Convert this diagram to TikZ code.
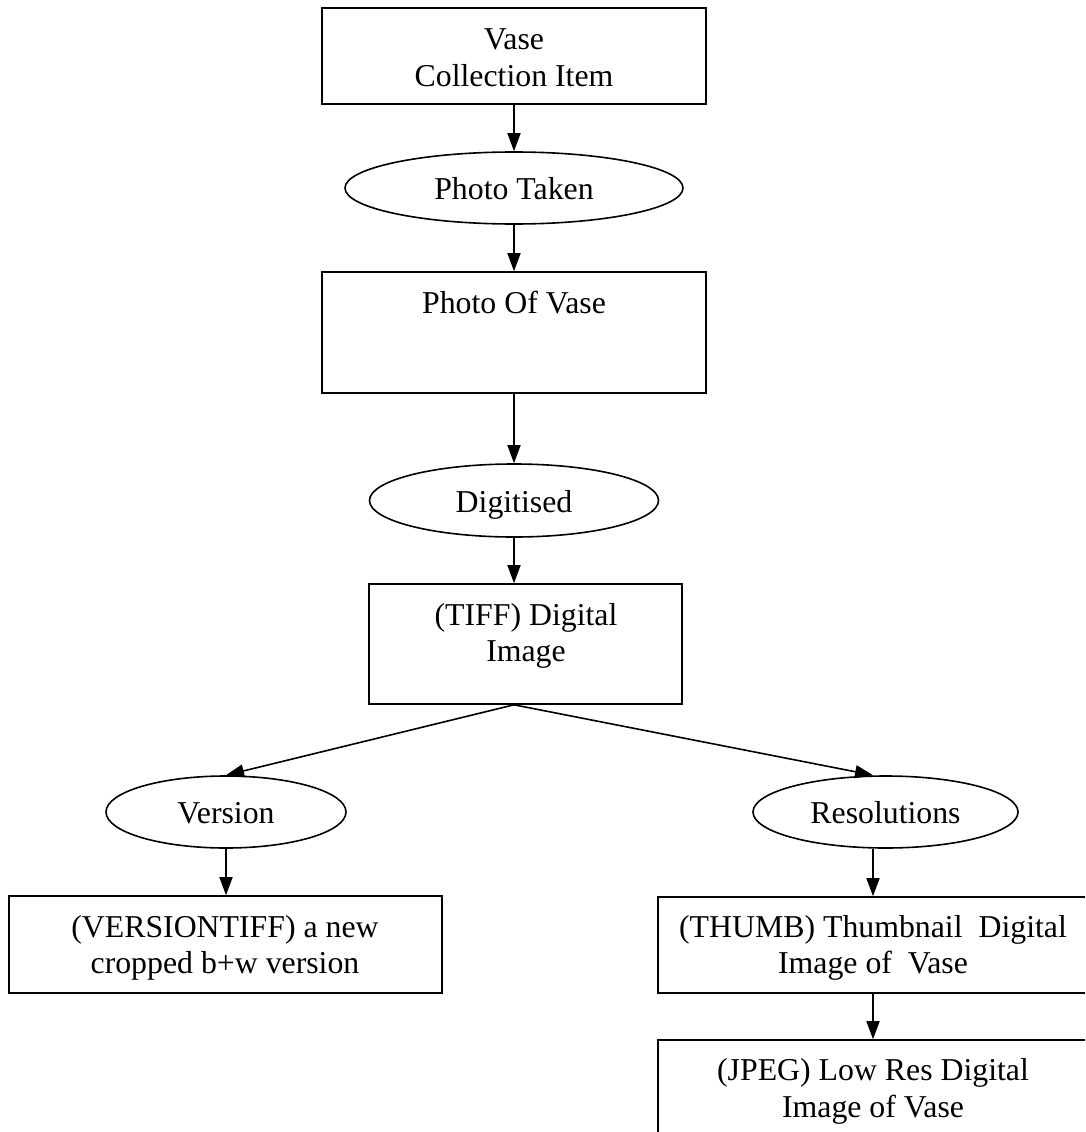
\documentclass[tikz,border=0pt]{standalone}
\usepackage{fontspec}
\setmainfont{Liberation Serif}
\usetikzlibrary{arrows.meta,shapes.geometric}

\begin{document}
\begin{tikzpicture}[x=1pt,y=-1pt,
  every node/.style={font=\fontsize{31.8}{36}\selectfont},
  stepbox/.style={draw,rectangle,line width=1.6pt,inner sep=0pt},
  stage/.style={draw,ellipse,line width=1.6pt,inner sep=0pt,
    text height=23pt,text depth=0pt},
  txt/.style={anchor=base,inner sep=0pt},
  flow/.style={line width=1.6pt,-{Triangle[length=18pt,width=13pt]}}]
\useasboundingbox (0,0) rectangle (1085,1132);
\clip (0,0) rectangle (1085,1132);

% boxes
\node[stepbox,minimum width=384pt,minimum height=96pt]  (b1) at (514,56)    {};
\node[stepbox,minimum width=384pt,minimum height=121pt] (b2) at (514,332.5) {};
\node[stepbox,minimum width=313pt,minimum height=120pt] (b3) at (525.5,644) {};
\node[stepbox,minimum width=433pt,minimum height=97pt]  (b4) at (225.5,944.5) {};
\node[stepbox,minimum width=430pt,minimum height=96pt]  (b5) at (873,945)   {};
\node[stepbox,minimum width=430pt,minimum height=100pt] (b6) at (873,1090)  {};

% box texts
\node[txt] (t1a) at (514,50)  {Vase};
\node[txt] (t1b) at (514,86)  {Collection Item};
\node[txt] (t2)  at (514,313) {Photo Of Vase};
\node[txt] (t3a) at (526,625) {(TIFF) Digital};
\node[txt] (t3b) at (526,661) {Image};
\node[txt] (t4a) at (225,937) {(VERSIONTIFF) a new};
\node[txt] (t4b) at (225,973) {cropped b+w version};
\node[txt] (t5a) at (873,937) {(THUMB) Thumbnail\ \ Digital};
\node[txt] (t5b) at (873,973) {Image of\ \ Vase};
\node[txt] (t6a) at (873,1080) {(JPEG) Low Res Digital};
\node[txt] (t6b) at (873,1117) {Image of Vase};

% process stages
\node[stage,minimum width=338pt,minimum height=72pt] (e1) at (514,188)   {Photo Taken};
\node[stage,minimum width=289pt,minimum height=73pt] (e2) at (514,500.5) {Digitised};
\node[stage,minimum width=240pt,minimum height=72pt] (e3) at (226,812)   {Version};
\node[stage,minimum width=265pt,minimum height=72pt] (e4) at (885.5,812) {Resolutions};

% connectors
\coordinate (fork) at (e2.south |- b3.south);
\draw[flow] (b1.south) -- (e1.north);
\draw[flow] (e1.south) -- (b2.north);
\draw[flow] (b2.south) -- (e2.north);
\draw[flow] (e2.south) -- (e2.south |- b3.north);
\draw[flow] (fork) -- (e3.north);
\draw[flow] (fork) -- (b5.north |- e4.north);
\draw[flow] (e3.south) -- (e3.south |- b4.north);
\draw[flow] (b5.north |- e4.south) -- (b5.north);
\draw[flow] (b5.south) -- (b6.north);
\end{tikzpicture}
\end{document}
